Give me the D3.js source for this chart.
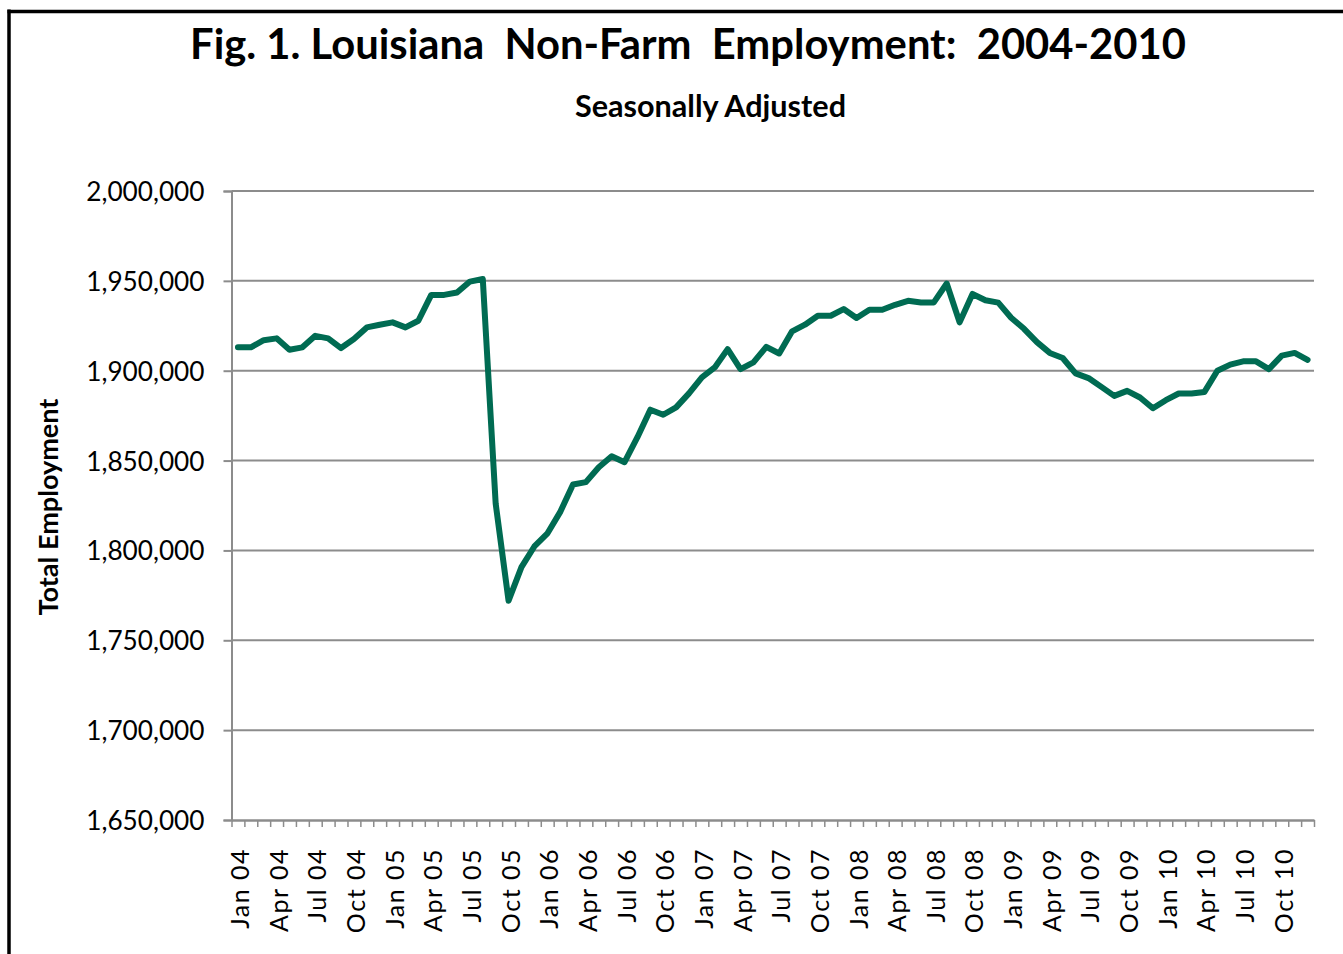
<!DOCTYPE html>
<html>
<head>
<meta charset="utf-8">
<script src="https://cdn.jsdelivr.net/npm/d3@7"></script>
<style>
  html, body { margin: 0; padding: 0; background: #fff; }
  svg { display: block; }
  text { font-family: Lato, "Open Sans", sans-serif; fill: #000; }
</style>
</head>
<body>
<svg id="chart" width="1343" height="954"></svg>
<script>
// ---- Data ----
const years = ["04", "05", "06", "07", "08", "09", "10"];
const monthNames = ["Jan","Feb","Mar","Apr","May","Jun","Jul","Aug","Sep","Oct","Nov","Dec"];
const employment2004 = [1913000, 1913000, 1917000, 1918000, 1911700, 1913000, 1919400, 1918000, 1912600, 1917600, 1924100, 1925600];
const employment2005 = [1926900, 1924100, 1927800, 1942200, 1942200, 1943500, 1949600, 1951000, 1826000, 1772000, 1790700, 1802200];
const employment2006 = [1809300, 1821300, 1836700, 1838000, 1846300, 1852400, 1849100, 1863000, 1878300, 1875500, 1879600, 1887400];
const employment2007 = [1896300, 1901800, 1912000, 1900900, 1904600, 1913300, 1909600, 1921900, 1925600, 1930600, 1930600, 1934300];
const employment2008 = [1929300, 1933900, 1933900, 1936700, 1938900, 1938000, 1938000, 1948500, 1926900, 1942700, 1939200, 1937900];
const employment2009 = [1929500, 1923300, 1915900, 1909900, 1907100, 1898500, 1895900, 1891000, 1886000, 1888800, 1885100, 1879100];
const employment2010 = [1883600, 1887300, 1887300, 1888200, 1900000, 1903400, 1905200, 1905200, 1900900, 1908400, 1909900, 1906000];
const yTicks = [1650000, 1700000, 1750000, 1800000, 1850000, 1900000, 1950000, 2000000];
const xTickLabels = ["Jan 04","Apr 04","Jul 04","Oct 04","Jan 05","Apr 05","Jul 05","Oct 05",
  "Jan 06","Apr 06","Jul 06","Oct 06","Jan 07","Apr 07","Jul 07","Oct 07","Jan 08","Apr 08",
  "Jul 08","Oct 08","Jan 09","Apr 09","Jul 09","Oct 09","Jan 10","Apr 10","Jul 10","Oct 10"];
const titleText = "Fig. 1. Louisiana  Non-Farm  Employment:  2004-2010";
const subtitleText = "Seasonally Adjusted";
const yAxisTitle = "Total Employment";

// ---- Build table ----
const categories = [];
years.forEach(y => monthNames.forEach(m => categories.push(m + " " + y)));
const values = [].concat(employment2004, employment2005, employment2006, employment2007,
  employment2008, employment2009, employment2010);
const data = categories.map((c, i) => ({ cat: c, value: values[i] }));

// ---- Layout ----
const svg = d3.select("#chart");
const plot = { left: 231.5, right: 1314, top: 191, bottom: 820 };
const gridColor = "#8c8c8c";
const lineColor = "#006b52";

svg.append("rect").attr("width", 1343).attr("height", 954).attr("fill", "#fff");

// frame (left and top)
svg.append("line").attr("x1", 9).attr("x2", 9).attr("y1", 9.5).attr("y2", 954)
  .attr("stroke", "#000").attr("stroke-width", 3.5);
svg.append("line").attr("x1", 7.5).attr("x2", 1343).attr("y1", 11.5).attr("y2", 11.5)
  .attr("stroke", "#000").attr("stroke-width", 3.5);

// ---- Scales ----
const xBand = d3.scaleBand().domain(categories).range([plot.left, plot.right]).padding(0);
const xEdge = d3.scaleLinear().domain([0, categories.length]).range([plot.left, plot.right]);
const y = d3.scaleLinear().domain([1650000, 2000000]).range([plot.bottom, plot.top]);
const cx = c => xBand(c) + xBand.bandwidth() / 2;

// gridlines
svg.append("g").selectAll("line").data(yTicks.filter(t => t > 1650000)).join("line")
  .attr("x1", plot.left).attr("x2", plot.right)
  .attr("y1", d => y(d)).attr("y2", d => y(d))
  .attr("stroke", gridColor).attr("stroke-width", 2);

// y axis
const yAxis = svg.append("g").attr("transform", `translate(${plot.left},0)`)
  .call(d3.axisLeft(y).tickValues(yTicks).tickFormat(d3.format(",")).tickSize(8).tickPadding(19));
yAxis.select(".domain").attr("stroke", gridColor).attr("stroke-width", 2);
yAxis.selectAll(".tick line").attr("stroke", gridColor).attr("stroke-width", 2);
yAxis.selectAll("text").style("font-size", "26.2px").attr("dy", "0.36em");

// x axis (ticks between categories)
const xAxis = svg.append("g").attr("transform", `translate(0,${plot.bottom})`)
  .call(d3.axisBottom(xEdge).tickValues(d3.range(categories.length + 1)).tickFormat("").tickSizeInner(7).tickSizeOuter(0));
xAxis.select(".domain").attr("stroke", gridColor).attr("stroke-width", 2.5);
xAxis.selectAll(".tick line").attr("stroke", gridColor).attr("stroke-width", 1.5);

// x labels
svg.append("g").selectAll("text").data(xTickLabels).join("text")
  .attr("transform", d => `translate(${cx(d) + 2},848) rotate(-90)`)
  .attr("text-anchor", "end").attr("dy", "0.36em")
  .style("font-size", "25px").style("letter-spacing", "1.5px")
  .text(d => d);

// line
const line = d3.line().x(d => cx(d.cat)).y(d => y(d.value));
svg.append("path").datum(data)
  .attr("d", line).attr("fill", "none")
  .attr("stroke", lineColor).attr("stroke-width", 6)
  .attr("stroke-linejoin", "round").attr("stroke-linecap", "round");

// ---- Titles ----
function fit(sel, width) {
  const w = sel.node().getComputedTextLength();
  const fs = parseFloat(sel.style("font-size"));
  sel.style("font-size", (fs * width / w) + "px");
}
const title = svg.append("text").attr("x", 688).attr("y", 59)
  .attr("text-anchor", "middle").style("font-weight", "bold").style("font-size", "38px")
  .style("white-space", "pre").text(titleText);
fit(title, 996);

const sub = svg.append("text").attr("x", 710.5).attr("y", 117)
  .attr("text-anchor", "middle").style("font-weight", "bold").style("font-size", "27px")
  .text(subtitleText);
fit(sub, 271);

const yt = svg.append("text").attr("transform", "translate(58,507) rotate(-90)")
  .attr("text-anchor", "middle").style("font-weight", "bold").style("font-size", "25px")
  .text(yAxisTitle);
fit(yt, 217);
</script>
</body>
</html>
